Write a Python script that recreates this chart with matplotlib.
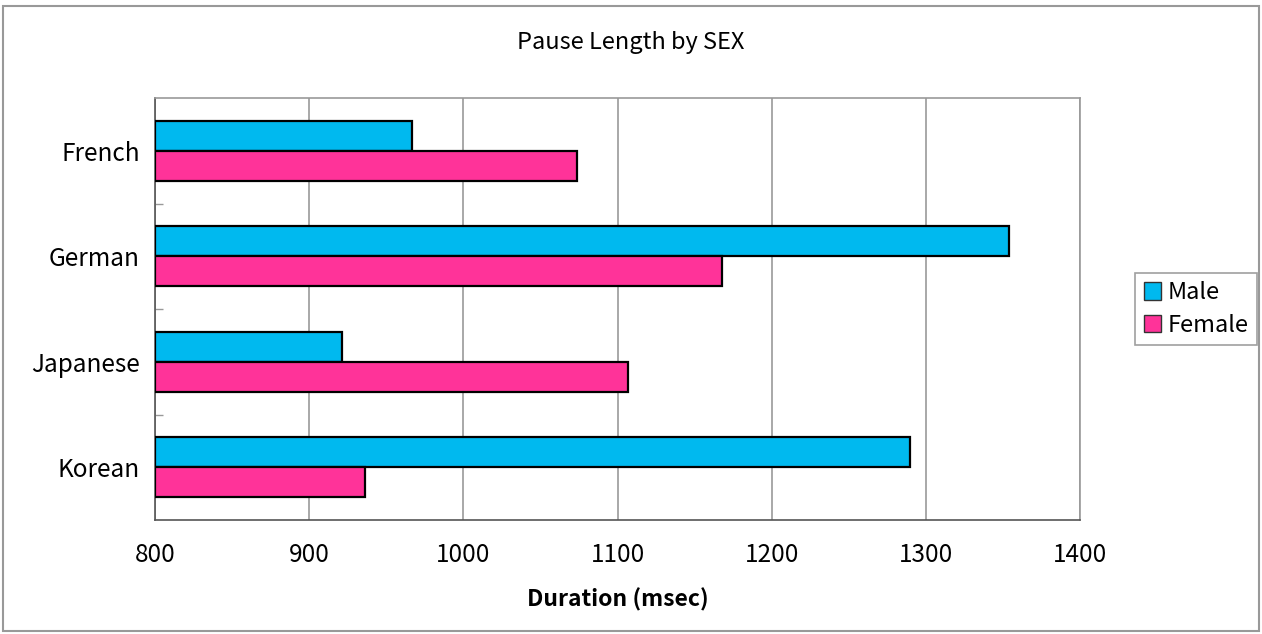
import matplotlib
matplotlib.use("Agg")
import matplotlib.pyplot as plt
from matplotlib.patches import Rectangle, Patch
import numpy as np

plt.rcParams['font.family'] = ['Noto Sans CJK JP', 'DejaVu Sans']

categories = ["French", "German", "Japanese", "Korean"]
male = [967, 1354, 921, 1290]
female = [1074, 1168, 1107, 936]
xticks = [800, 900, 1000, 1100, 1200, 1300, 1400]

fig = plt.figure(figsize=(12.62, 6.34), dpi=100)
ax = fig.add_axes([155/1262, 1-520/634, (1080-155)/1262, (520-98)/634])

y = np.arange(len(categories))
h = 0.285
ax.barh(y - h/2, np.array(male) - 800, left=800, height=h, color="#00B9EF",
        edgecolor="black", linewidth=1.6, label="Male", zorder=3)
ax.barh(y + h/2, np.array(female) - 800, left=800, height=h, color="#FF3399",
        edgecolor="black", linewidth=1.6, label="Female", zorder=3)

ax.set_xlim(800, 1400)
ax.set_ylim(len(categories) - 0.5, -0.5)
ax.set_xticks(xticks)
ax.set_xticklabels([str(t) for t in xticks], fontsize=17.5)
ax.tick_params(axis='x', length=0, pad=16)
ax.set_yticks(y)
ax.set_yticklabels(categories, fontsize=17.5)
ax.tick_params(axis='y', which='major', length=0, pad=11)
ax.set_yticks(np.arange(0.5, len(categories) - 0.5, 1), minor=True)
ax.tick_params(axis='y', which='minor', direction='in', length=6, color='#999999', width=1)
ax.grid(axis='x', color='#999999', linewidth=1.2, zorder=0)
for s in ax.spines.values():
    s.set_color('#555555')
    s.set_linewidth(1.2)
ax.spines['top'].set_color('#999999')
ax.spines['right'].set_color('#999999')

ax.set_xlabel("Duration (msec)", fontsize=16.5, fontweight='bold', labelpad=14)
fig.text(0.5, 1-43/634, "Pause Length by SEX", ha='center', va='center', fontsize=17)

leg_handles = [Patch(facecolor="#00B9EF", edgecolor="#333333"), Patch(facecolor="#FF3399", edgecolor="#333333")]
leg = fig.legend(leg_handles, ["Male", "Female"], loc='center', bbox_to_anchor=(1196/1262, 1-309/634),
                 fontsize=17, frameon=True, fancybox=False, edgecolor='#888888',
                 handlelength=0.75, handleheight=0.75, handletextpad=0.25, borderpad=0.35, labelspacing=0.4)
leg.get_frame().set_linewidth(1.2)

fig.patches.append(Rectangle((3/1262, 1-631/634), 1256/1262, 625/634, transform=fig.transFigure,
                             fill=False, edgecolor='#999999', linewidth=1.5))

fig.savefig("out.png", dpi=100)
